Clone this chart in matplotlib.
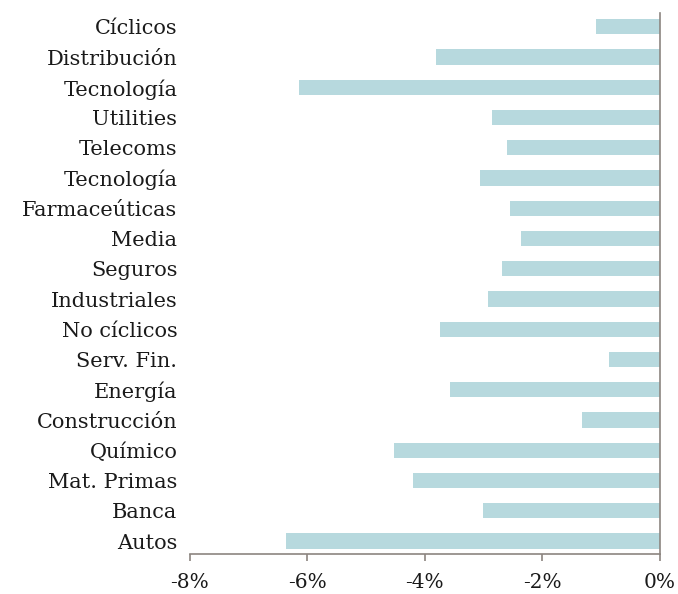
import matplotlib.pyplot as plt
from matplotlib.ticker import FuncFormatter

# sectores de arriba abajo
sectores = ["Cíclicos", "Distribución", "Tecnología", "Utilities", "Telecoms",
            "Tecnología", "Farmaceúticas", "Media", "Seguros", "Industriales",
            "No cíclicos", "Serv. Fin.", "Energía", "Construcción", "Químico",
            "Mat. Primas", "Banca", "Autos"]
variacion = [-1.09, -3.81, -6.14, -2.86, -2.60, -3.06, -2.55, -2.37, -2.69,
             -2.93, -3.74, -0.87, -3.57, -1.33, -4.53, -4.20, -3.01, -6.37]
x_ticks = [-8, -6, -4, -2, 0]

plt.rcParams['font.family'] = ['DejaVu Serif']

fig = plt.figure(figsize=(6.78, 5.94), dpi=100)
ax = fig.add_axes([0.280, 0.0673, 0.6935, 0.911])

pos = list(range(len(sectores)))[::-1]
ax.barh(pos, variacion, height=0.5, color="#b7d9de")

ax.set_xlim(-8, 0)
ax.set_ylim(-0.43, len(sectores) - 1 + 0.46)
ax.set_yticks(pos)
ax.set_yticklabels(sectores, fontsize=15, color="#1a1a1a")
ax.set_xticks(x_ticks)
ax.xaxis.set_major_formatter(FuncFormatter(lambda v, p: f"{int(v)}%"))
ax.tick_params(axis='x', labelsize=14.5, labelcolor="#1a1a1a", length=5,
               width=1.2, color="#8c8580", direction="out", pad=9)
ax.tick_params(axis='y', length=0, pad=9)

for s in ["top", "left"]:
    ax.spines[s].set_visible(False)
for s in ["bottom", "right"]:
    ax.spines[s].set_color("#8c8580")
    ax.spines[s].set_linewidth(1.2)

fig.savefig("out.png", dpi=100)
